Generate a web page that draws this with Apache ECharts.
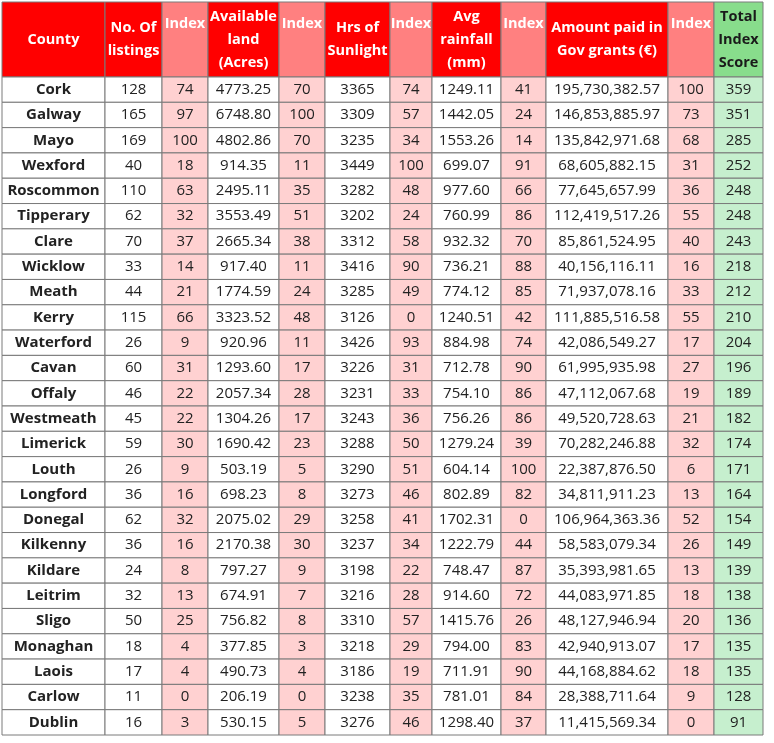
<!DOCTYPE html>
<html><head><meta charset="utf-8">
<script src="https://cdn.jsdelivr.net/npm/echarts@6/dist/echarts.min.js"></script>
<style>html,body{margin:0;padding:0;background:#fff}#c{width:774px;height:743px}</style>
</head><body><div id="c"></div>
<script>
const headers = ['County','No. Of\nlistings','Index','Available\nland\n(Acres)','Index','Hrs of\nSunlight','Index','Avg\nrainfall\n(mm)','Index','Amount paid in\nGov grants (€)','Index','Total\nIndex\nScore'];
const counties = ['Cork','Galway','Mayo','Wexford','Roscommon','Tipperary','Clare','Wicklow','Meath','Kerry','Waterford','Cavan','Offaly','Westmeath','Limerick','Louth','Longford','Donegal','Kilkenny','Kildare','Leitrim','Sligo','Monaghan','Laois','Carlow','Dublin'];
const listings = [128,165,169,40,110,62,70,33,44,115,26,60,46,45,59,26,36,62,36,24,32,50,18,17,11,16];
const listingsIdx = [74,97,100,18,63,32,37,14,21,66,9,31,22,22,30,9,16,32,16,8,13,25,4,4,0,3];
const land = ['4773.25','6748.80','4802.86','914.35','2495.11','3553.49','2665.34','917.40','1774.59','3323.52','920.96','1293.60','2057.34','1304.26','1690.42','503.19','698.23','2075.02','2170.38','797.27','674.91','756.82','377.85','490.73','206.19','530.15'];
const landIdx = [70,100,70,11,35,51,38,11,24,48,11,17,28,17,23,5,8,29,30,9,7,8,3,4,0,5];
const sun = [3365,3309,3235,3449,3282,3202,3312,3416,3285,3126,3426,3226,3231,3243,3288,3290,3273,3258,3237,3198,3216,3310,3218,3186,3238,3276];
const sunIdx = [74,57,34,100,48,24,58,90,49,0,93,31,33,36,50,51,46,41,34,22,28,57,29,19,35,46];
const rain = ['1249.11','1442.05','1553.26','699.07','977.60','760.99','932.32','736.21','774.12','1240.51','884.98','712.78','754.10','756.26','1279.24','604.14','802.89','1702.31','1222.79','748.47','914.60','1415.76','794.00','711.91','781.01','1298.40'];
const rainIdx = [41,24,14,91,66,86,70,88,85,42,74,90,86,86,39,100,82,0,44,87,72,26,83,90,84,37];
const grants = ['195,730,382.57','146,853,885.97','135,842,971.68','68,605,882.15','77,645,657.99','112,419,517.26','85,861,524.95','40,156,116.11','71,937,078.16','111,885,516.58','42,086,549.27','61,995,935.98','47,112,067.68','49,520,728.63','70,282,246.88','22,387,876.50','34,811,911.23','106,964,363.36','58,583,079.34','35,393,981.65','44,083,971.85','48,127,946.94','42,940,913.07','44,168,884.62','28,388,711.64','11,415,569.34'];
const grantsIdx = [100,73,68,31,36,55,40,16,33,55,17,27,19,21,32,6,13,52,26,13,18,20,17,18,9,0];
const total = [359,351,285,252,248,248,243,218,212,210,204,196,189,182,174,171,164,154,149,139,138,136,135,135,128,91];

const cols = [counties,listings,listingsIdx,land,landIdx,sun,sunIdx,rain,rainIdx,grants,grantsIdx,total];
const colEdges = [0,103,160,206,277,323,388,430,499,544,666,712,761];
const kinds = ['name','val','idx','val','idx','val','idx','val','idx','val','idx','tot'];
const headH = 75, N = counties.length, rowH = (733-headH)/N;
const data = [];
headers.forEach((h,c)=>data.push([c,-1,h]));
cols.forEach((arr,c)=>arr.forEach((v,r)=>data.push([c,r,String(v)])));

const chart = echarts.init(document.getElementById('c'));
chart.setOption({
  animation:false,
  grid:{left:2,right:11,top:2,bottom:8},
  xAxis:{type:'value',min:0,max:761,show:false},
  yAxis:{type:'value',min:0,max:733,inverse:true,show:false},
  series:[{type:'custom',data:data,renderItem:(p,api)=>{
    const c=api.value(0), r=api.value(1), txt=data[p.dataIndex][2];
    const y0 = r<0?0:headH+r*rowH, y1 = r<0?headH:headH+(r+1)*rowH;
    const a=api.coord([colEdges[c],y0]), b=api.coord([colEdges[c+1],y1]);
    const k=kinds[c];
    let fill='#fff', color='#222', weight='normal';
    if(r<0){ fill = k==='idx'?'#FF8080':(k==='tot'?'#88DD8C':'#FF0000'); color=k==='tot'?'#1a1a1a':'#fff'; weight='bold'; }
    else { if(k==='idx') fill='#FFD1D1'; if(k==='tot') fill='#C6EFCE'; if(k==='name') weight='bold'; }
    const isHead=r<0;
    return {type:'group',children:[
      {type:'rect',shape:{x:a[0],y:a[1],width:b[0]-a[0],height:b[1]-a[1]},style:{fill:fill,stroke:'#7a7a7a',lineWidth:1}},
      {type:'text',style:{x:(a[0]+b[0])/2,y:isHead&&k==='idx'?a[1]+22:(a[1]+b[1])/2,text:txt,align:'center',verticalAlign:'middle',
        fill:color,fontWeight:weight,fontFamily:'Open Sans, sans-serif',fontSize:isHead?14.5:15,lineHeight:isHead?23:16,letterSpacing:isHead?-0.4:-0.2}}
    ]};
  }}]
});
</script></body></html>
